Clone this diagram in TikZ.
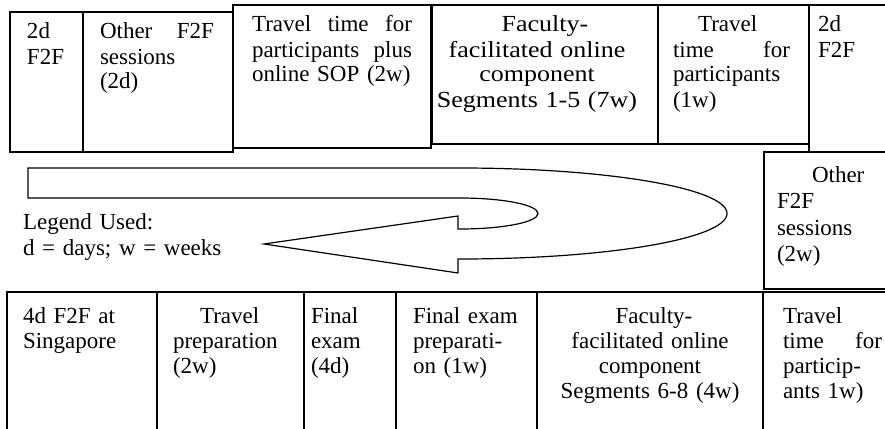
\documentclass[tikz,border=0pt]{standalone}
\usepackage{fontspec}
\setmainfont{Liberation Serif}
\newfontfamily\wideserif{Liberation Serif}[FakeStretch=1.13]
% a justified line of the given width (in pt); the words are spread apart
\newcommand\jl[2]{\makebox[#1pt][s]{\spaceskip=0pt plus 1fil\relax #2}}
\tikzset{
  cell/.style={draw, rectangle, line width=1.5pt, inner sep=0pt, outer sep=0pt, anchor=north west},
  txt/.style={anchor=north west, inner sep=0pt, outer sep=0pt, align=left,
              font=\fontsize{23}{25}\selectfont},
  ctxt/.style={txt, align=center},
  uturn/.style={draw, line width=1.2pt, line join=miter, fill=white}
}
\begin{document}
\begin{tikzpicture}[x=1pt, y=-1pt]
\useasboundingbox (0,0) rectangle (885,428);

% top row of the schedule
\node[cell, minimum width=73pt,  minimum height=140pt] (a1) at (10,12)  {};
\node[cell, minimum width=150pt, minimum height=140pt] (a2) at (83,12)  {};
\node[cell, minimum width=198pt, minimum height=143pt] (a3) at (233,5)  {};
\node[cell, minimum width=226pt, minimum height=139pt] (a4) at (432,5)  {};
\node[cell, minimum width=151pt, minimum height=139pt] (a5) at (658,5)  {};
\node[cell, minimum width=86pt,  minimum height=147pt] (a6) at (809,5)  {};

\node[txt, text width=45pt]  (a1t) at ([shift={(17,9.5)}]a1.north west) {\strut 2d\\F2F};
\node[txt, text width=116pt] (a2t) at ([shift={(17,9.5)}]a2.north west) {\strut\jl{114}{Other F2F}\\sessions\\(2d)};
\node[txt, text width=161pt] (a3t) at ([shift={(19,9.5)}]a3.north west) {\strut\jl{160}{Travel time for}\\\jl{160}{participants plus}\\online SOP (2w)};
\node[ctxt, text width=210pt, font=\wideserif\fontsize{23}{25}\selectfont] (a4t) at ([shift={(0,9.5)}]a4.north west) {\strut\hspace*{16pt}Faculty-\\facilitated online\\component\\Segments 1-5 (7w)};
\node[txt, text width=118pt] (a5t) at ([shift={(15,9.5)}]a5.north west) {\strut\hspace*{25pt}Travel\\\jl{117}{time for}\\participants\\(1w)};
\node[txt, text width=60pt]  (a6t) at ([shift={(9,9.5)}]a6.north west) {\strut 2d\\F2F};

% right-hand column
\node[cell, minimum width=131pt, minimum height=137pt] (b) at (764,152) {};
\node[txt, text width=100pt, font=\fontsize{23}{26.5}\selectfont] (bt) at ([shift={(13,11.5)}]b.north west) {\strut\hspace*{35pt}Other\\F2F\\sessions\\(2w)};

% bottom row of the schedule
\node[cell, minimum width=150pt, minimum height=148pt] (c1) at (7,292)   {};
\node[cell, minimum width=147pt, minimum height=148pt] (c2) at (157,292) {};
\node[cell, minimum width=92pt,  minimum height=148pt] (c3) at (304,292) {};
\node[cell, minimum width=141pt, minimum height=148pt] (c4) at (396,292) {};
\node[cell, minimum width=226pt, minimum height=148pt] (c5) at (537,292) {};
\node[cell, minimum width=132pt, minimum height=148pt] (c6) at (763,292) {};

\node[txt, text width=125pt] (c1t) at ([shift={(16,13.5)}]c1.north west) {\strut 4d F2F at\\Singapore};
\node[txt, text width=120pt] (c2t) at ([shift={(16,13.5)}]c2.north west) {\strut\hspace*{27pt}Travel\\preparation\\(2w)};
\node[txt, text width=80pt]  (c3t) at ([shift={(7,13.5)}]c3.north west)  {\strut Final\\exam\\(4d)};
\node[txt, text width=115pt] (c4t) at ([shift={(17,13.5)}]c4.north west) {\strut Final exam\\preparati-\\on (1w)};
\node[ctxt, text width=210pt] (c5t) at ([shift={(8,13.5)}]c5.north west) {\strut\hspace*{8pt}Faculty-\\facilitated online\\component\\Segments 6-8 (4w)};
\node[txt, text width=99pt]  (c6t) at ([shift={(20,13.5)}]c6.north west) {\strut Travel\\\jl{99}{time for}\\particip-\\ants 1w)};

% U-turn arrow from the top row back to the bottom row
\path[uturn] (28,168) -- (460,168)
  .. controls (607.5,168) and (727,188.4) .. (727,213.5)
  .. controls (727,238.6) and (607.5,259) .. (460,259)
  -- (458,259) -- (458,273) -- (264,244) -- (458,216) -- (458,229) -- (460,229)
  .. controls (503.1,229) and (538,222.06) .. (538,213.5)
  .. controls (538,204.94) and (503.1,198) .. (460,198)
  -- (28,198) -- cycle;

% legend
\node[txt, text width=220pt, font=\fontsize{23}{26}\selectfont] (legend) at (23,210.8) {\strut Legend Used:\\d = days; w = weeks};
\end{tikzpicture}
\end{document}
